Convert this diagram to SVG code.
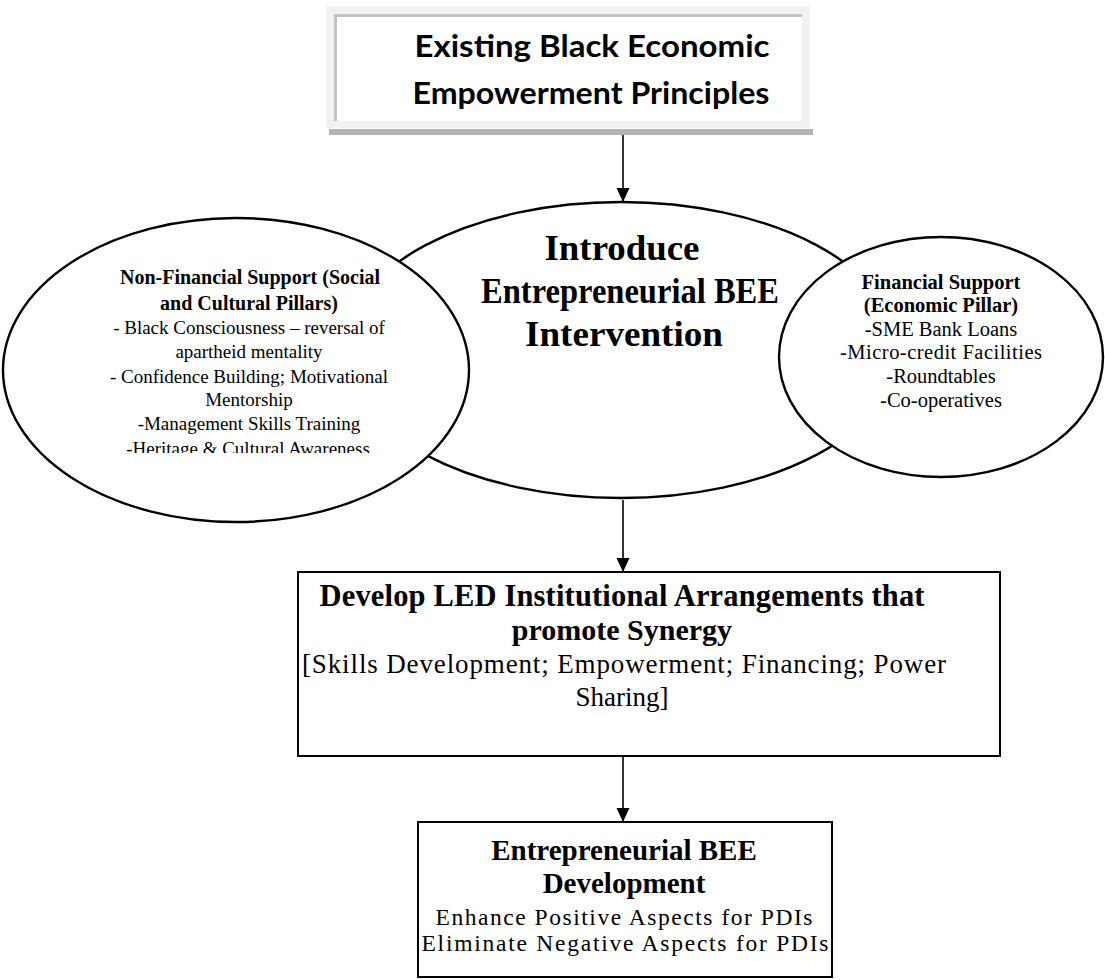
<svg xmlns="http://www.w3.org/2000/svg" width="1105" height="980" viewBox="0 0 1105 980">
  <style>
    .serif { font-family: "Liberation Serif", "DejaVu Serif", serif; fill: #000; text-anchor: middle; }
    .b { font-weight: bold; }
    .sans { font-family: Lato, "Liberation Sans", sans-serif; font-weight: bold; fill: #000; text-anchor: middle; }
    .oval { fill: #fff; stroke: #000; stroke-width: 2.4; }
    .box { fill: #fff; stroke: #000; stroke-width: 2; }
    .link { stroke: #000; stroke-width: 1.6; fill: none; marker-end: url(#head); }
  </style>
  <defs>
    <marker id="head" viewBox="0 0 14 16" refX="14" refY="8" markerWidth="14" markerHeight="16" markerUnits="userSpaceOnUse" orient="auto">
      <path d="M0,1.5 L14,8 L0,14.5 Z" fill="#000"/>
    </marker>
    <clipPath id="clipTitle"><rect x="334" y="14" width="470" height="95"/></clipPath>
    <clipPath id="clipLeft"><rect x="0" y="200" width="480" height="253"/></clipPath>
  </defs>
  <rect width="1105" height="980" fill="#fff"/>

  <!-- Starting point: shaded title panel -->
  <g id="node-principles">
    <rect x="329" y="129" width="484" height="6" fill="#b4b4b4"/>
    <rect x="326" y="6" width="484" height="122" fill="#f1f1f1"/>
    <rect x="334" y="14" width="468" height="107" fill="#fff"/>
    <path d="M335.5,121 V15.5 H802" fill="none" stroke="#c2c2c2" stroke-width="3"/>
    <g clip-path="url(#clipTitle)">
      <text class="sans" x="592" y="57" font-size="31" textLength="355" lengthAdjust="spacingAndGlyphs">Existing Black Economic</text>
      <text class="sans" x="591" y="104" font-size="31" textLength="357" lengthAdjust="spacingAndGlyphs">Empowerment Principles</text>
    </g>
  </g>

  <!-- Central intervention oval -->
  <g id="node-intervention">
    <ellipse class="oval" cx="621" cy="350" rx="277" ry="148"/>
  </g>

  <!-- Financial support oval -->
  <g id="node-financial">
    <ellipse class="oval" cx="941" cy="357" rx="162" ry="120"/>
    <text class="serif b" x="941" y="289" font-size="20.5">Financial Support</text>
    <text class="serif b" x="941" y="312" font-size="20.5">(Economic Pillar)</text>
    <text class="serif" x="941" y="336" font-size="20.5">-SME Bank Loans</text>
    <text class="serif" x="941" y="359" font-size="20.5" textLength="202">-Micro-credit Facilities</text>
    <text class="serif" x="941" y="383" font-size="20.5">-Roundtables</text>
    <text class="serif" x="941" y="407" font-size="20.5">-Co-operatives</text>
  </g>

  <!-- Non-financial support oval -->
  <g id="node-nonfinancial">
    <ellipse class="oval" cx="236" cy="370" rx="233" ry="152"/>
    <g clip-path="url(#clipLeft)">
      <text class="serif b" x="250" y="284" font-size="20">Non-Financial Support (Social</text>
      <text class="serif b" x="249" y="310" font-size="20">and Cultural Pillars)</text>
      <text class="serif" x="249" y="334" font-size="19">- Black Consciousness – reversal of</text>
      <text class="serif" x="249" y="358" font-size="19">apartheid mentality</text>
      <text class="serif" x="249" y="383" font-size="19">- Confidence Building; Motivational</text>
      <text class="serif" x="249" y="406" font-size="19">Mentorship</text>
      <text class="serif" x="249" y="430" font-size="19">-Management Skills Training</text>
      <text class="serif" x="248" y="455" font-size="19">-Heritage &amp; Cultural Awareness</text>
    </g>
  </g>

  <g id="node-intervention-label">
    <text class="serif b" x="622" y="260" font-size="35" textLength="155" lengthAdjust="spacingAndGlyphs">Introduce</text>
    <text class="serif b" x="630" y="303" font-size="35" textLength="298" lengthAdjust="spacingAndGlyphs">Entrepreneurial BEE</text>
    <text class="serif b" x="624" y="346" font-size="35" textLength="198" lengthAdjust="spacingAndGlyphs">Intervention</text>
  </g>

  <!-- Institutional arrangements -->
  <g id="node-institutional">
    <rect class="box" x="298" y="572" width="702" height="184"/>
    <text class="serif b" x="622" y="606" font-size="30.5" textLength="605">Develop LED Institutional Arrangements that</text>
    <text class="serif b" x="622" y="640" font-size="30">promote Synergy</text>
    <text class="serif" x="624" y="673" font-size="27" textLength="644">[Skills Development; Empowerment; Financing; Power</text>
    <text class="serif" x="622" y="706" font-size="27">Sharing]</text>
  </g>

  <!-- Outcome -->
  <g id="node-development">
    <rect class="box" x="418" y="822" width="414" height="155"/>
    <text class="serif b" x="624" y="860" font-size="29">Entrepreneurial BEE</text>
    <text class="serif b" x="624" y="893" font-size="29">Development</text>
    <text class="serif" x="624" y="925" font-size="23.5" textLength="377">Enhance Positive Aspects for PDIs</text>
    <text class="serif" x="625" y="951" font-size="23.5" textLength="407">Eliminate Negative Aspects for PDIs</text>
  </g>

  <g id="connectors">
    <line class="link" x1="623" y1="135" x2="623" y2="202"/>
    <line class="link" x1="623" y1="500" x2="623" y2="572"/>
    <line class="link" x1="623" y1="757" x2="623" y2="822"/>
  </g>
</svg>
